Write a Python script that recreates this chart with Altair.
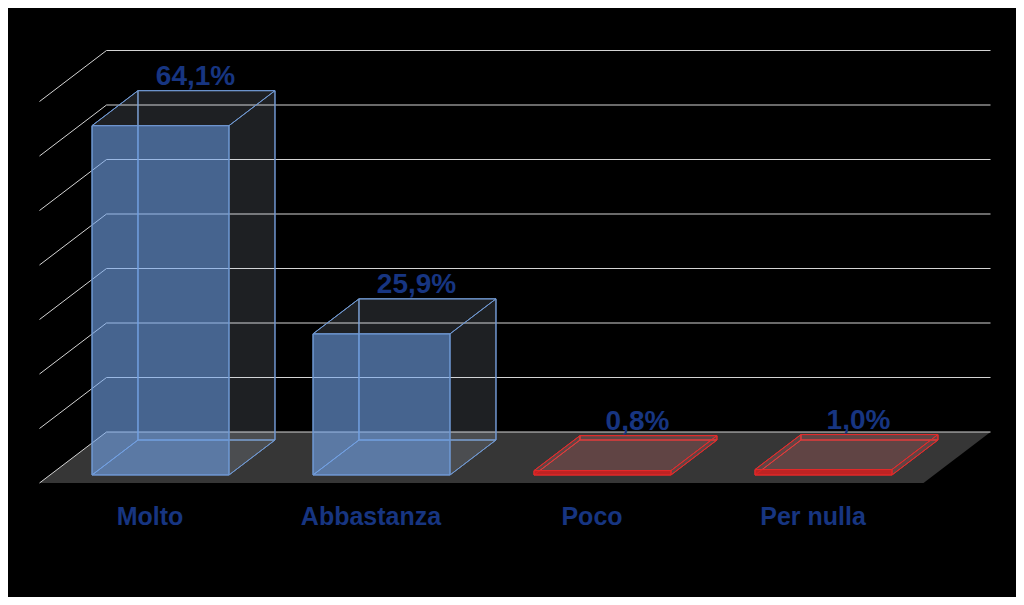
import altair as alt
import pandas as pd

# ---------------- data ----------------
categories = ["Molto", "Abbastanza", "Poco", "Per nulla"]
values = [64.1, 25.9, 0.8, 1.0]
value_labels = ["64,1%", "25,9%", "0,8%", "1,0%"]
groups = ["alto", "alto", "basso", "basso"]
grid_ticks = [0, 10, 20, 30, 40, 50, 60, 70]

# ---------------- pseudo-3D projection settings ----------------
W, H = 1008, 589
PXU, PXV = 221.0, 5.45          # px per category unit / per percent point
X0, Y0 = 31.5, 475.0            # plot px of the front-left floor corner
DX = 67 / PXU                   # depth shift in x (category units)
DY = 51 / PXV                   # depth shift in y (percent units)
D1, D2 = 0.157, 0.843           # bar front / back depth
HALF = 0.31                     # half bar width
n = len(categories)

xs = alt.Scale(domain=[-X0 / PXU, (W - X0) / PXU], nice=False, zero=False)
ys = alt.Scale(domain=[(Y0 - H) / PXV, Y0 / PXV], nice=False, zero=False)

def X(f="x"):
    return alt.X(f"{f}:Q", scale=xs, axis=None)

def Y(f="y"):
    return alt.Y(f"{f}:Q", scale=ys, axis=None)

grp_dom = ["alto", "basso"]
front_fill = alt.Scale(domain=grp_dom, range=["#74a7ee", "#d62020"])
front_op = alt.Scale(domain=grp_dom, range=[0.6, 0.85])
edge_col = alt.Scale(domain=grp_dom, range=["#6f97d0", "#e42a2a"])
side_fill = alt.Scale(domain=grp_dom, range=["#c8d4e8", "#e07070"])
side_op = alt.Scale(domain=grp_dom, range=[0.15, 0.25])

# ---------------- floor ----------------
floor_df = pd.DataFrame([
    {"y": 0.0, "x": 0.0, "x2": float(n)},
    {"y": DY, "x": DX, "x2": n + DX},
])
floor = alt.Chart(floor_df).mark_area(orient="horizontal", color="#363636").encode(
    y=Y(), x=alt.X("x:Q", scale=xs, axis=None, stack=None), x2="x2:Q"
)

# ---------------- grid ----------------
grid_rows = []
for t in grid_ticks:
    grid_rows += [
        {"t": t, "o": 0, "x": 0.0, "y": t},
        {"t": t, "o": 1, "x": DX, "y": t + DY},
        {"t": t, "o": 2, "x": n + DX, "y": t + DY},
    ]
grid = alt.Chart(pd.DataFrame(grid_rows)).mark_line(color="#d4d4d4", strokeWidth=1).encode(
    x=X(), y=Y(), detail="t:N", order="o:Q"
)

# ---------------- bars ----------------
front_rows, back_rows, left_rows, right_rows, top_rows, bot_rows = [], [], [], [], [], []
for i, (c, h, g) in enumerate(zip(categories, values, groups)):
    cu = i + 0.5
    u0, u1 = cu - HALF, cu + HALF
    front_rows.append({"c": c, "g": g, "x": u0 + D1 * DX, "x2": u1 + D1 * DX,
                       "y": D1 * DY, "y2": h + D1 * DY})
    back_rows.append({"c": c, "g": g, "x": u0 + D2 * DX, "x2": u1 + D2 * DX,
                      "y": D2 * DY, "y2": h + D2 * DY})
    for d in (D1, D2):
        left_rows.append({"c": c, "g": g, "x": u0 + d * DX, "y": d * DY, "y2": h + d * DY})
        right_rows.append({"c": c, "g": g, "x": u1 + d * DX, "y": d * DY, "y2": h + d * DY})
        top_rows.append({"c": c, "g": g, "y": h + d * DY, "x": u0 + d * DX, "x2": u1 + d * DX})
        bot_rows.append({"c": c, "g": g, "y": d * DY, "x": u0 + d * DX, "x2": u1 + d * DX})

stroke_enc = alt.Stroke("g:N", scale=edge_col, legend=None)

back = alt.Chart(pd.DataFrame(back_rows)).mark_rect(fillOpacity=0, strokeWidth=1).encode(
    x=X(), x2="x2:Q", y=Y(), y2="y2:Q", stroke=stroke_enc
)
bottom = alt.Chart(pd.DataFrame(bot_rows)).mark_area(orient="horizontal", fillOpacity=0, strokeWidth=1).encode(
    y=Y(), x=alt.X("x:Q", scale=xs, axis=None, stack=None), x2="x2:Q", detail="c:N", stroke=stroke_enc
)
left = alt.Chart(pd.DataFrame(left_rows)).mark_area(fillOpacity=0, strokeWidth=1).encode(
    x=X(), y=alt.Y("y:Q", scale=ys, axis=None, stack=None), y2="y2:Q", detail="c:N", stroke=stroke_enc
)
right = alt.Chart(pd.DataFrame(right_rows)).mark_area(strokeWidth=1).encode(
    x=X(), y=alt.Y("y:Q", scale=ys, axis=None, stack=None), y2="y2:Q", detail="c:N",
    stroke=stroke_enc,
    fill=alt.Fill("g:N", scale=side_fill, legend=None),
    fillOpacity=alt.FillOpacity("g:N", scale=side_op, legend=None),
)
top = alt.Chart(pd.DataFrame(top_rows)).mark_area(orient="horizontal", strokeWidth=1).encode(
    y=Y(), x=alt.X("x:Q", scale=xs, axis=None, stack=None), x2="x2:Q", detail="c:N",
    stroke=stroke_enc,
    fill=alt.Fill("g:N", scale=side_fill, legend=None),
    fillOpacity=alt.FillOpacity("g:N", scale=side_op, legend=None),
)
front = alt.Chart(pd.DataFrame(front_rows)).mark_rect(strokeWidth=1).encode(
    x=X(), x2="x2:Q", y=Y(), y2="y2:Q",
    stroke=stroke_enc,
    fill=alt.Fill("g:N", scale=front_fill, legend=None),
    fillOpacity=alt.FillOpacity("g:N", scale=front_op, legend=None),
)

# ---------------- labels ----------------
lab_df = pd.DataFrame({
    "x": [i + 0.5 + 0.206 for i in range(n)],
    "y": [h + D2 * DY for h in values],
    "t": value_labels,
})
val_text = alt.Chart(lab_df).mark_text(
    baseline="alphabetic", dy=-6, fontSize=28, fontWeight="bold",
    font="Liberation Sans", color="#173581"
).encode(x=X(), y=Y(), text="t:N")

cat_df = pd.DataFrame({
    "x": [i + 0.5 for i in range(n)],
    "y": [-6.24] * n,
    "t": categories,
})
cat_text = alt.Chart(cat_df).mark_text(
    baseline="middle", fontSize=25, fontWeight="bold",
    font="Liberation Sans", color="#173581"
).encode(x=X(), y=Y(), text="t:N")

chart = alt.layer(
    floor, grid, back, bottom, left, right, top, front, val_text, cat_text
).resolve_scale(
    fill="independent", fillOpacity="independent"
).properties(
    width=W, height=H, padding=0, autosize="none", background="black"
).configure_view(stroke=None)

chart.save("out.html", embed_options={"renderer": "svg", "actions": False})
